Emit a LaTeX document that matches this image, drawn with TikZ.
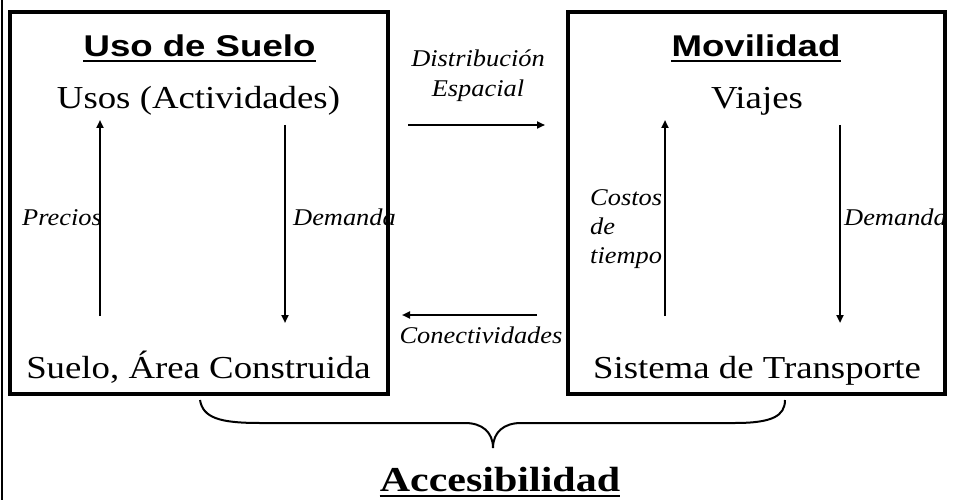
\documentclass[tikz,border=0pt]{standalone}
\usepackage{fontspec}
\newfontfamily\tnrm[FakeStretch=1.15]{Liberation Serif}
\newfontfamily\tnri[FakeStretch=1.1]{Liberation Serif}
\newfontfamily\tnrb[FakeStretch=1.2]{Liberation Serif}
\newfontfamily\arl[FakeStretch=1.22]{Liberation Sans}
\usetikzlibrary{arrows.meta,calc}
\begin{document}
\begin{tikzpicture}[x=1pt,y=-1pt,
  box/.style={draw,line width=4pt,inner sep=0pt},
  title/.style={inner sep=0pt,anchor=base,font=\arl\bfseries\fontsize{30}{36}\selectfont},
  main/.style={inner sep=0pt,anchor=base,font=\tnrm\fontsize{32}{38}\selectfont},
  lab/.style={inner sep=0pt,font=\tnri\itshape\fontsize{24}{29}\selectfont},
  arr/.style={line width=2pt,-{Triangle[length=8pt,width=7pt]}},
  uline/.style={line width=2.5pt},
  bracepath/.style={line width=2pt}]
\useasboundingbox (0,0) rectangle (956,500);
% left border line
\coordinate (bt) at (2,0);
\coordinate (bb) at (2,500);
\draw[line width=2.5pt] (bt) -- (bb);
% boxes
\node[box,minimum width=378pt,minimum height=382pt] (lbox) at (199,203) {};
\node[box,minimum width=377pt,minimum height=382pt] (rbox) at (756.5,203) {};
% titles
\node[title] (t1) at (199.5,57) {Uso de Suelo};
\draw[uline] ($(t1.base west)+(0,4)$) -- ($(t1.base east)+(0,4)$);
\node[title] (t2) at (756,57) {Movilidad};
\draw[uline] ($(t2.base west)+(0,4)$) -- ($(t2.base east)+(0,4)$);
% main texts
\node[main] (u1) at (198.5,109) {Usos (Actividades)};
\node[main] (v1) at (757,109) {Viajes};
\node[main] (s1) at (198.5,378) {Suelo, Área Construida};
\node[main] (s2) at (757,378) {Sistema de Transporte};
% labels
\node[lab,anchor=base west] (pr) at (22,225) {Precios};
\node[lab,anchor=base west] (dm1) at (293,225) {Demanda};
\node[lab,anchor=base west] (dm2) at (844,225) {Demanda};
\node[lab,anchor=base west] (c1) at (590,205) {Costos};
\node[lab,anchor=base west] (c2) at (590,234) {de};
\node[lab,anchor=base west] (c3) at (590,263) {tiempo};
\node[lab,anchor=base] (d1) at (478,67) {Distribución};
\node[lab,anchor=base] (d2) at (478,97) {Espacial};
\node[lab,anchor=base] (cn) at (481,343) {Conectividades};
% arrows
\coordinate (a1s) at (100,316); \coordinate (a1e) at (100,120);
\coordinate (a2s) at (285,125); \coordinate (a2e) at (285,323);
\coordinate (a3s) at (665,316); \coordinate (a3e) at (665,120);
\coordinate (a4s) at (840,125); \coordinate (a4e) at (840,323);
\coordinate (h1s) at (408,125); \coordinate (h1e) at (545,125);
\coordinate (h2s) at (537,315); \coordinate (h2e) at (402,315);
\draw[arr] (a1s) -- (a1e);
\draw[arr] (a2s) -- (a2e);
\draw[arr] (a3s) -- (a3e);
\draw[arr] (a4s) -- (a4e);
\draw[arr] (h1s) -- (h1e);
\draw[arr] (h2s) -- (h2e);
% brace
\coordinate (bl) at (200,400);
\coordinate (br) at (785,400);
\coordinate (btip) at (493,448);
\draw[bracepath] (bl) .. controls (203,418) and (220,423) .. (260,423) -- (465,423)
  .. controls (482,423) and (493,432) .. (btip)
  .. controls (493,432) and (504,423) .. (521,423) -- (735,423)
  .. controls (772,423) and (785,416) .. (br);
% Accesibilidad
\node[inner sep=0pt,anchor=base,font=\tnrb\bfseries\fontsize{35}{42}\selectfont] (acc) at (500,491) {Accesibilidad};
\draw[uline] ($(acc.base west)+(0,5)$) -- ($(acc.base east)+(0,5)$);
\end{tikzpicture}
\end{document}
